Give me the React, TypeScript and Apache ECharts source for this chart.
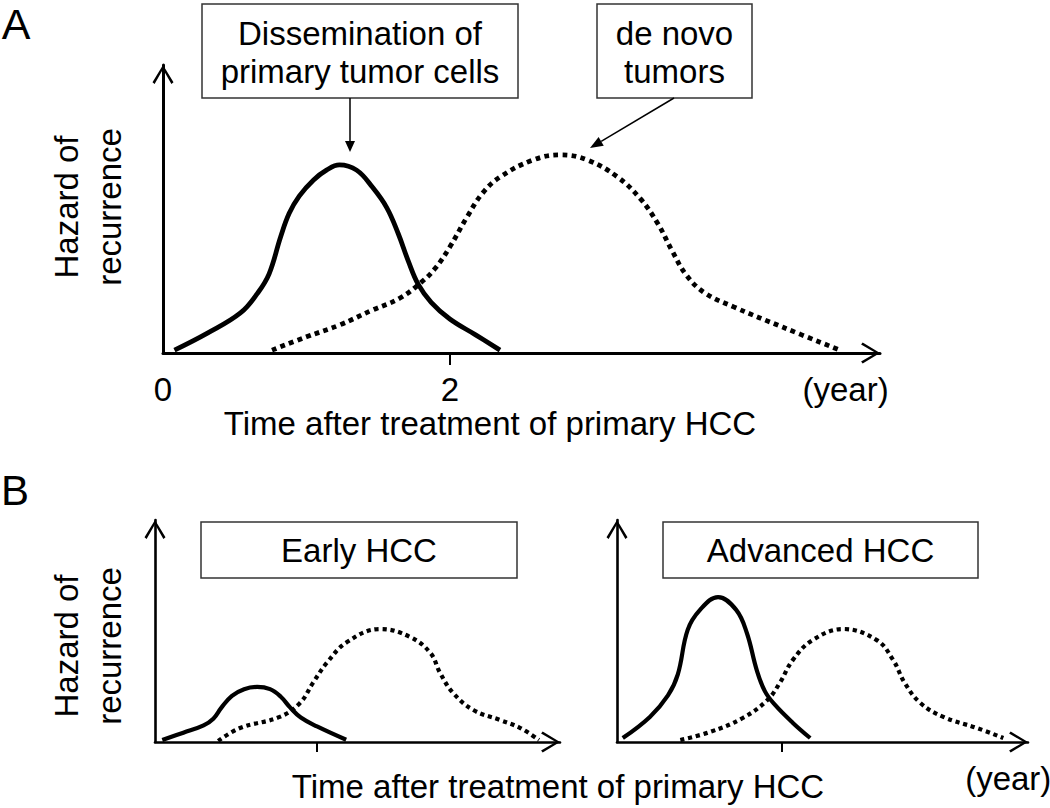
import React, { useEffect, useRef } from "react";
import * as echarts from "echarts";

// ---- data (x: years after treatment, y: relative hazard, 0-100) ----
const solidA: [number, number][] = [
  [0.08, 1], [0.31, 6.9], [0.54, 13.9], [0.66, 20.8], [0.74, 27.5],
  [0.82, 40.3], [0.88, 48.5], [0.95, 54.5], [1.05, 60.1], [1.14, 63.5], [1.23, 65.3],
  [1.35, 63.5], [1.46, 57.6], [1.56, 50.5], [1.64, 41.5], [1.71, 32.0], [1.78, 23.8],
  [1.87, 17.6], [2.0, 11.8], [2.18, 6.3], [2.35, 1.0],
];
const dottedA: [number, number][] = [
  [0.76, 1], [1.0, 5.6], [1.23, 9.7], [1.46, 14.9], [1.65, 19.0], [1.8, 24.5],
  [1.9, 29.5], [2.0, 36.8], [2.12, 47.2], [2.23, 55.6], [2.35, 61.1], [2.58, 67.0],
  [2.77, 68.8], [2.96, 67.0], [3.17, 61.1], [3.33, 53.5], [3.45, 45.0], [3.55, 35.5],
  [3.65, 27.0], [3.78, 20.8], [3.98, 16.0], [4.32, 9.0], [4.72, 1.0],
];
const solidEarly: [number, number][] = [
  [0.09, 0.9], [0.35, 4.2], [0.6, 7.5], [0.72, 10.5], [0.82, 15.5], [0.95, 20.8],
  [1.1, 23.8], [1.26, 24.8], [1.42, 23.8], [1.55, 20.5], [1.67, 15.5], [1.8, 11.0],
  [2.0, 7.0], [2.36, 1.0],
];
const dottedEarly: [number, number][] = [
  [0.78, 0.5], [1.05, 6.3], [1.54, 11.3], [1.79, 17.6], [1.95, 26.6], [2.12, 35.6],
  [2.37, 45.0], [2.78, 50.9], [3.15, 47.3], [3.4, 40.1], [3.52, 31.1], [3.68, 22.1],
  [3.93, 14.4], [4.26, 9.9], [4.51, 6.3], [4.74, 0.9],
];
const solidAdvanced: [number, number][] = [
  [0.07, 1.8], [0.4, 11.3], [0.62, 21.0], [0.74, 30.5], [0.86, 50.5], [1.01, 59.5],
  [1.23, 65.3], [1.45, 59.5], [1.58, 49.1], [1.7, 32.4], [1.8, 22.8], [1.92, 16.8],
  [2.14, 8.6], [2.35, 1.8],
];
const dottedAdvanced: [number, number][] = [
  [0.77, 0.9], [1.13, 4.5], [1.53, 10.8], [1.83, 18.9], [1.98, 26.6], [2.14, 37.0],
  [2.38, 45.9], [2.75, 50.9], [3.16, 45.9], [3.36, 36.9], [3.5, 26.6], [3.69, 17.6],
  [3.97, 11.3], [4.38, 6.3], [4.7, 1.8],
];

const xTickValues = [2];
const xLabelValuesA = [0, 2];
const yearUnitValue = 4.76;
const xMax = 5;
const yMax = 100;

const FONT = "'Liberation Sans', Arial, Helvetica, sans-serif";
const ARROW =
  "path://M10,0 L10.01,0 Z M10,18 L20,34.5 L18,36 L10,22 L2,36 L0,34.5 Z";

function makeXAxis(
  gridIndex: number,
  labelValues: number[],
  tickLen: number,
  lineWidth: number
) {
  return {
    type: "value",
    gridIndex,
    min: 0,
    max: xMax,
    axisLine: {
      show: true,
      onZero: false,
      symbol: ["none", ARROW],
      symbolSize: [21, 38],
      lineStyle: { color: "#000", width: lineWidth },
    },
    axisTick: {
      show: true,
      customValues: xTickValues,
      length: tickLen,
      lineStyle: { color: "#000", width: 2 },
    },
    axisLabel: {
      show: labelValues.length > 0,
      customValues: labelValues,
      formatter: (v: number) =>
        v === 0 ? "0" : v === 2 ? "2" : "(year)",
      color: "#000",
      fontSize: 33,
      fontFamily: FONT,
      margin: 20,
    },
    splitLine: { show: false },
  };
}

function makeYAxis(gridIndex: number, lineWidth: number) {
  return {
    type: "value",
    gridIndex,
    min: 0,
    max: yMax,
    axisLine: {
      show: true,
      onZero: false,
      symbol: ["none", ARROW],
      symbolSize: [21, 38],
      lineStyle: { color: "#000", width: lineWidth },
    },
    axisTick: { show: false },
    axisLabel: { show: false },
    splitLine: { show: false },
  };
}

function curve(
  data: [number, number][],
  idx: number,
  dotted: boolean,
  width: number
) {
  return {
    type: "line",
    xAxisIndex: idx,
    yAxisIndex: idx,
    data,
    smooth: 0.4,
    showSymbol: false,
    symbol: "none",
    silent: true,
    lineStyle: {
      color: "#000",
      width,
      type: dotted ? [width, width * 0.9] : "solid",
      cap: "butt",
      join: "round",
    },
    z: dotted ? 3 : 4,
  };
}

function text(
  t: string,
  x: number,
  y: number,
  size: number,
  extra: any = {}
) {
  return {
    type: "text",
    x,
    y,
    rotation: extra.rotation || 0,
    z: 100,
    style: {
      text: t,
      fill: "#000",
      font: `${size}px ${FONT}`,
      align: "center",
      verticalAlign: "middle",
      lineHeight: extra.lineHeight || size * 1.15,
    },
  };
}

function box(x: number, y: number, w: number, h: number) {
  return {
    type: "rect",
    z: 99,
    shape: { x, y, width: w, height: h },
    style: { fill: "#fff", stroke: "#333", lineWidth: 1.5 },
  };
}

export default function App() {
  const ref = useRef<HTMLDivElement>(null);

  useEffect(() => {
    document.body.style.margin = "0";
    if (!ref.current) return;
    const chart = echarts.init(ref.current, null, { renderer: "svg" });

    // annotation arrow 2 geometry
    const a2s = [674, 98];
    const a2t = [590, 148];
    const dx = a2t[0] - a2s[0];
    const dy = a2t[1] - a2s[1];
    const len = Math.sqrt(dx * dx + dy * dy);
    const ux = dx / len;
    const uy = dy / len;
    const hb = [a2t[0] - 13 * ux, a2t[1] - 13 * uy];
    const nx = -uy;
    const ny = ux;

    chart.setOption({
      animation: false,
      backgroundColor: "#fff",
      grid: [
        { left: 163, top: 65, width: 717, height: 288, outerBoundsMode: "none" },
        { left: 155, top: 520, width: 405, height: 222, outerBoundsMode: "none" },
        { left: 617, top: 520, width: 411, height: 222, outerBoundsMode: "none" },
      ],
      xAxis: [
        makeXAxis(0, [...xLabelValuesA, yearUnitValue], 12, 3),
        makeXAxis(1, [], 10, 2.6),
        makeXAxis(2, [yearUnitValue], 10, 2.6),
      ],
      yAxis: [makeYAxis(0, 3), makeYAxis(1, 2.6), makeYAxis(2, 2.6)],
      series: [
        curve(dottedA, 0, true, 4.8),
        curve(solidA, 0, false, 4.8),
        curve(dottedEarly, 1, true, 4.2),
        curve(solidEarly, 1, false, 4.2),
        curve(dottedAdvanced, 2, true, 4.2),
        curve(solidAdvanced, 2, false, 4.2),
      ],
      graphic: [
        text("A", 16, 24, 43),
        text("B", 15, 490, 42),
        // panel A
        text("Hazard of\nrecurrence", 88, 207, 33, {
          rotation: Math.PI / 2,
          lineHeight: 43,
        }),
        text("Time after treatment of primary HCC", 490, 423, 33),
        box(202, 4, 316, 94),
        text("Dissemination of\nprimary tumor cells", 360, 52, 33, {
          lineHeight: 38,
        }),
        box(597, 4, 155, 94),
        text("de novo\ntumors", 674.5, 52, 33, { lineHeight: 38 }),
        {
          type: "line",
          z: 100,
          shape: { x1: 350, y1: 98, x2: 350, y2: 142 },
          style: { stroke: "#000", lineWidth: 1.5 },
        },
        {
          type: "polygon",
          z: 100,
          shape: { points: [[345, 141], [355, 141], [350, 152]] },
          style: { fill: "#000" },
        },
        {
          type: "line",
          z: 100,
          shape: { x1: a2s[0], y1: a2s[1], x2: hb[0], y2: hb[1] },
          style: { stroke: "#000", lineWidth: 1.5 },
        },
        {
          type: "polygon",
          z: 100,
          shape: {
            points: [
              [a2t[0], a2t[1]],
              [hb[0] + 5 * nx, hb[1] + 5 * ny],
              [hb[0] - 5 * nx, hb[1] - 5 * ny],
            ],
          },
          style: { fill: "#000" },
        },
        // panel B
        text("Hazard of\nrecurrence", 88, 646, 33, {
          rotation: Math.PI / 2,
          lineHeight: 43,
        }),
        text("Time after treatment of primary HCC", 558, 786, 33),
        box(201, 522, 316, 56),
        text("Early HCC", 359, 550, 33),
        box(663, 522, 315, 56),
        text("Advanced HCC", 820.5, 550, 33),
      ],
    });

    return () => chart.dispose();
  }, []);

  return <div ref={ref} style={{ width: 1050, height: 808 }} />;
}
